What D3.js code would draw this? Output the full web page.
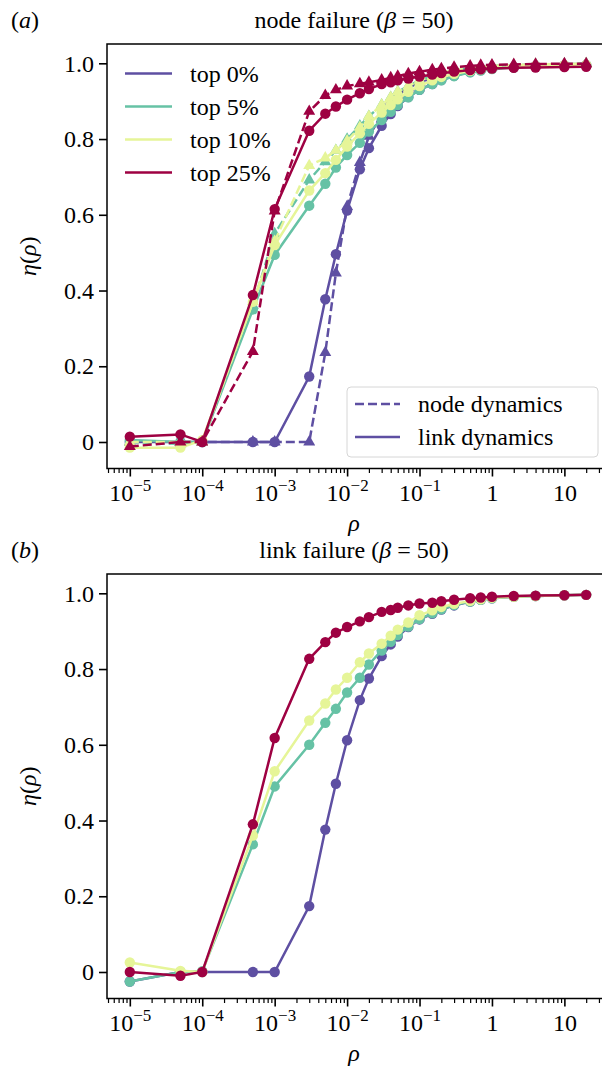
<!DOCTYPE html>
<html>
<head>
<meta charset="utf-8">
<script src="https://cdn.jsdelivr.net/npm/d3@7"></script>
<style>
body { margin: 0; background: #fff; }
svg { font-family: "Liberation Serif", "DejaVu Serif", serif; }
</style>
</head>
<body>
<svg id="chart" width="602" height="1069"></svg>
<script>
const rho = [1e-5, 5e-5, 1e-4, 5e-4, 1e-3, 3e-3, 5e-3, 7e-3, 1e-2, 1.5e-2, 2e-2, 3e-2, 4e-2, 5e-2, 7e-2,
    0.1, 0.15, 0.2, 0.3, 0.5, 0.7, 1, 2, 4, 10, 20];

const groupLabels = ["top 0%", "top 5%", "top 10%", "top 25%"];
const groupColors = ["#5e4fa2", "#66c2a5", "#e6f598", "#9e0142"];

// node failure, node dynamics (dashed, triangles)
const nfNode0 = [0, 0, 0, 0, 0, 0, 0.236, 0.446, 0.622, 0.738, 0.807, 0.864, 0.9, 0.915, 0.935, 0.95, 0.962, 0.97, 0.977, 0.984, 0.988, 0.991, 0.994, 0.996, 0.998, 0.999];
const nfNode5 = [0, -0.005, 0, 0.36, 0.55, 0.692, 0.74, 0.77, 0.8, 0.835, 0.86, 0.89, 0.91, 0.925, 0.94, 0.955, 0.966, 0.974, 0.981, 0.987, 0.99, 0.993, 0.995, 0.997, 0.998, 0.999];
const nfNode10 = [0, 0, 0, 0.37, 0.53, 0.73, 0.75, 0.77, 0.795, 0.831, 0.86, 0.89, 0.91, 0.925, 0.94, 0.955, 0.966, 0.975, 0.982, 0.988, 0.991, 0.993, 0.995, 0.997, 0.998, 0.999];
const nfNode25 = [-0.012, 0, 0, 0.239, 0.61, 0.873, 0.915, 0.93, 0.94, 0.946, 0.95, 0.956, 0.962, 0.966, 0.973, 0.978, 0.983, 0.986, 0.99, 0.993, 0.995, 0.996, 0.997, 0.998, 0.999, 0.999];

// node failure, link dynamics (solid, circles)
const nfLink0 = [0, 0, 0, 0, 0, 0.173, 0.377, 0.496, 0.611, 0.72, 0.776, 0.835, 0.866, 0.887, 0.911, 0.93, 0.945, 0.956, 0.967, 0.977, 0.982, 0.986, 0.99, 0.993, 0.995, 0.996];
const nfLink5 = [0.005, 0, 0, 0.35, 0.494, 0.624, 0.682, 0.725, 0.758, 0.79, 0.82, 0.85, 0.872, 0.89, 0.91, 0.93, 0.945, 0.955, 0.966, 0.976, 0.981, 0.985, 0.989, 0.992, 0.994, 0.995];
const nfLink10 = [-0.015, -0.015, 0.005, 0.37, 0.52, 0.664, 0.71, 0.745, 0.78, 0.815, 0.84, 0.87, 0.89, 0.905, 0.925, 0.94, 0.955, 0.964, 0.972, 0.98, 0.984, 0.987, 0.99, 0.993, 0.995, 0.996];
const nfLink25 = [0.014, 0.02, 0, 0.388, 0.615, 0.822, 0.867, 0.886, 0.904, 0.921, 0.932, 0.945, 0.95, 0.955, 0.96, 0.965, 0.97, 0.974, 0.978, 0.982, 0.984, 0.986, 0.988, 0.989, 0.99, 0.991];

// link failure, link dynamics (solid, circles)
const lfLink0 = [-0.025, 0, 0, 0, 0, 0.174, 0.376, 0.497, 0.612, 0.718, 0.775, 0.834, 0.865, 0.886, 0.911, 0.931, 0.946, 0.957, 0.968, 0.978, 0.983, 0.987, 0.991, 0.993, 0.995, 0.996];
const lfLink5 = [-0.025, 0, 0.002, 0.337, 0.49, 0.6, 0.658, 0.695, 0.738, 0.777, 0.812, 0.849, 0.872, 0.89, 0.912, 0.932, 0.947, 0.958, 0.969, 0.978, 0.983, 0.987, 0.991, 0.993, 0.995, 0.996];
const lfLink10 = [0.025, 0.003, 0, 0.36, 0.53, 0.664, 0.709, 0.746, 0.777, 0.818, 0.841, 0.867, 0.888, 0.904, 0.923, 0.942, 0.955, 0.964, 0.972, 0.98, 0.984, 0.988, 0.991, 0.993, 0.995, 0.996];
const lfLink25 = [0, -0.01, 0, 0.39, 0.618, 0.827, 0.871, 0.896, 0.911, 0.926, 0.937, 0.951, 0.956, 0.962, 0.968, 0.973, 0.975, 0.979, 0.983, 0.987, 0.989, 0.991, 0.993, 0.994, 0.995, 0.996];

const xTicks = [1e-5, 1e-4, 1e-3, 1e-2, 1e-1, 1, 10];
const xTickLabels = [["10", "\u22125"], ["10", "\u22124"], ["10", "\u22123"], ["10", "\u22122"], ["10", "\u22121"], ["1", ""], ["10", ""]];
const yTicks = [0, 0.2, 0.4, 0.6, 0.8, 1.0];
const yTickLabels = ["0", "0.2", "0.4", "0.6", "0.8", "1.0"];

const svg = d3.select("#chart");
const left = 107, right = 609;
const fontSize = 24;

const x = d3.scaleLog()
    .domain([Math.pow(10, -5.315), Math.pow(10, 1.616)])
    .range([left, right]);

function drawPanel(top, bottom, letter, titleParts, series, withLegend) {
    const y = d3.scaleLinear().domain([-0.07, 1.051]).range([bottom, top]);
    const g = svg.append("g");

    // title
    const title = g.append("text")
        .attr("x", (left + right) / 2 - 4)
        .attr("y", top - 16)
        .attr("text-anchor", "middle")
        .attr("font-size", fontSize);
    titleParts.forEach(p => {
        title.append("tspan").attr("font-style", p[1] ? "italic" : null).text(p[0]);
    });
    const lt = g.append("text")
        .attr("x", 11)
        .attr("y", top - 16)
        .attr("font-size", fontSize);
    lt.append("tspan").text("(");
    lt.append("tspan").attr("font-style", "italic").text(letter);
    lt.append("tspan").text(")");

    // minor x ticks
    const minor = x.ticks().filter(v => Math.abs(Math.log10(v) - Math.round(Math.log10(v))) > 1e-6);
    g.append("g")
        .attr("transform", `translate(0,${bottom})`)
        .call(d3.axisBottom(x).tickValues(minor).tickSize(4.5).tickSizeOuter(0).tickFormat(() => ""))
        .call(a => a.select(".domain").remove())
        .call(a => a.selectAll(".tick line").attr("stroke", "#000").attr("stroke-width", 1.2));

    // major x ticks
    const gx = g.append("g")
        .attr("transform", `translate(0,${bottom})`)
        .call(d3.axisBottom(x).tickValues(xTicks).tickSize(8).tickSizeOuter(0).tickFormat(() => ""))
        .call(a => a.select(".domain").remove())
        .call(a => a.selectAll(".tick line").attr("stroke", "#000").attr("stroke-width", 1.6));
    gx.attr("font-size", fontSize).attr("font-family", null);
    gx.selectAll(".tick text").each(function(d, i) {
        const t = d3.select(this).attr("fill", "#000").attr("dy", null).attr("y", 32);
        t.append("tspan").text(xTickLabels[i][0]);
        if (xTickLabels[i][1]) {
            t.append("tspan").attr("dy", -10).attr("font-size", 17).text(xTickLabels[i][1]);
        }
    });

    // y ticks
    const gy = g.append("g")
        .attr("transform", `translate(${left},0)`)
        .call(d3.axisLeft(y).tickValues(yTicks).tickSize(8).tickSizeOuter(0).tickPadding(5)
            .tickFormat((d, i) => yTickLabels[i]))
        .call(a => a.select(".domain").remove())
        .call(a => a.selectAll(".tick line").attr("stroke", "#000").attr("stroke-width", 1.6));
    gy.attr("font-size", fontSize).attr("font-family", null);
    gy.selectAll(".tick text").attr("fill", "#000");

    // axis labels
    g.append("text")
        .attr("x", (left + right) / 2 - 4)
        .attr("y", bottom + 62)
        .attr("text-anchor", "middle")
        .attr("font-size", fontSize)
        .attr("font-style", "italic")
        .text("\u03c1");
    const yl = g.append("text")
        .attr("transform", `translate(36,${(top + bottom) / 2}) rotate(-90)`)
        .attr("text-anchor", "middle")
        .attr("font-size", fontSize);
    yl.append("tspan").attr("font-style", "italic").text("\u03b7");
    yl.append("tspan").text("(");
    yl.append("tspan").attr("font-style", "italic").text("\u03c1");
    yl.append("tspan").text(")");

    // clip
    const clipId = "clip" + letter;
    svg.append("clipPath").attr("id", clipId)
        .append("rect").attr("x", left).attr("y", top).attr("width", right - left).attr("height", bottom - top);

    const line = d3.line()
        .x(d => x(d.r))
        .y(d => y(d.v));

    const plot = g.append("g").attr("clip-path", `url(#${clipId})`);
    series.forEach(s => {
        const pts = rho.map((r, i) => ({ r, v: s.values[i] }));
        plot.append("path")
            .datum(pts)
            .attr("fill", "none")
            .attr("stroke", s.color)
            .attr("stroke-width", 2.5)
            .attr("stroke-dasharray", s.dashed ? "9,4" : null)
            .attr("d", line);
        if (s.dashed) {
            plot.selectAll(null)
                .data(pts)
                .enter()
                .append("path")
                .attr("transform", d => `translate(${x(d.r)},${y(d.v)})`)
                .attr("d", d3.symbol(d3.symbolTriangle, 62)())
                .attr("fill", s.color);
        } else {
            plot.selectAll(null)
                .data(pts)
                .enter()
                .append("circle")
                .attr("cx", d => x(d.r))
                .attr("cy", d => y(d.v))
                .attr("r", 5.2)
                .attr("fill", s.color);
        }
    });

    // frame
    g.append("rect")
        .attr("x", left).attr("y", top)
        .attr("width", right - left).attr("height", bottom - top)
        .attr("fill", "none")
        .attr("stroke", "#000")
        .attr("stroke-width", 1.5);

    if (withLegend) {
        const leg = g.append("g");
        groupLabels.forEach((lab, i) => {
            const ly = top + 29.5 + i * 33;
            leg.append("line")
                .attr("x1", 125).attr("x2", 172)
                .attr("y1", ly).attr("y2", ly)
                .attr("stroke", groupColors[i]).attr("stroke-width", 2.5);
            leg.append("text")
                .attr("x", 190).attr("y", ly)
                .attr("dy", "0.35em")
                .attr("font-size", fontSize)
                .text(lab);
        });

        const leg2 = g.append("g");
        leg2.append("rect")
            .attr("x", 347).attr("y", 387).attr("width", 251).attr("height", 70)
            .attr("rx", 4)
            .attr("fill", "#fff").attr("fill-opacity", 0.8)
            .attr("stroke", "#d6d6d6").attr("stroke-width", 1);
        const styles = [["node dynamics", true], ["link dynamics", false]];
        styles.forEach((st, i) => {
            const ly = 404 + i * 33;
            leg2.append("line")
                .attr("x1", 355).attr("x2", 400)
                .attr("y1", ly).attr("y2", ly)
                .attr("stroke", groupColors[0]).attr("stroke-width", 2.5)
                .attr("stroke-dasharray", st[1] ? "9,4" : null);
            leg2.append("text")
                .attr("x", 418).attr("y", ly)
                .attr("dy", "0.35em")
                .attr("font-size", fontSize)
                .text(st[0]);
        });
    }
}

const nfSeries = [];
[nfNode0, nfNode5, nfNode10, nfNode25].forEach((vals, i) => {
    nfSeries.push({ values: vals, color: groupColors[i], dashed: true });
    nfSeries.push({ values: [nfLink0, nfLink5, nfLink10, nfLink25][i], color: groupColors[i], dashed: false });
});
const lfSeries = [lfLink0, lfLink5, lfLink10, lfLink25].map((vals, i) => ({ values: vals, color: groupColors[i], dashed: false }));

drawPanel(44, 468.5, "a", [["node failure ("], ["\u03b2", true], [" = 50)"]], nfSeries, true);
drawPanel(574, 998.5, "b", [["link failure ("], ["\u03b2", true], [" = 50)"]], lfSeries, false);
</script>
</body>
</html>
